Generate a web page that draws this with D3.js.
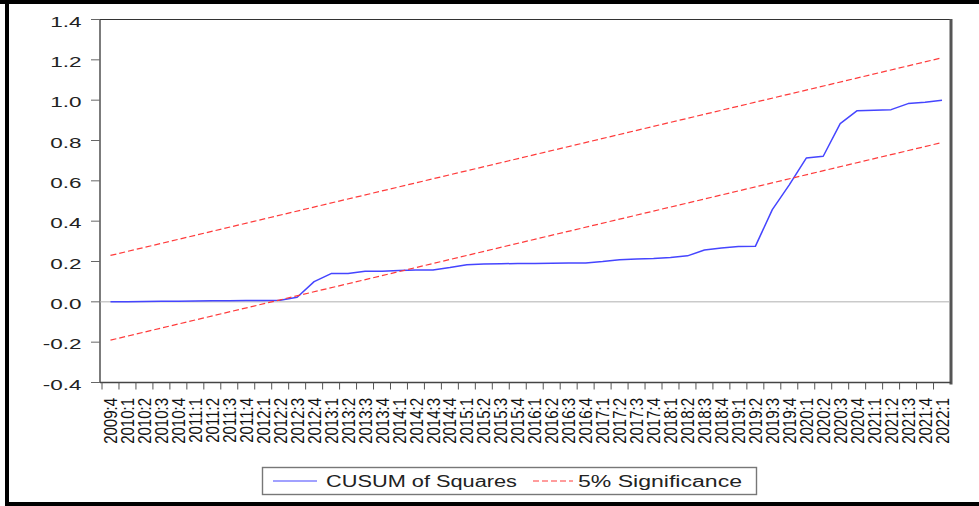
<!DOCTYPE html>
<html>
<head>
<meta charset="utf-8">
<script src="https://cdn.jsdelivr.net/npm/d3@7"></script>
<style>
  html, body { margin: 0; padding: 0; background: #fff; }
  svg { display: block; }
  text { font-family: "Liberation Sans", Arial, sans-serif; fill: #222; }
</style>
</head>
<body>
<svg id="chart" width="979" height="506"></svg>
<script>
// Quarterly observations
const quarters = [
  "2009:4",
  "2010:1","2010:2","2010:3","2010:4",
  "2011:1","2011:2","2011:3","2011:4",
  "2012:1","2012:2","2012:3","2012:4",
  "2013:1","2013:2","2013:3","2013:4",
  "2014:1","2014:2","2014:3","2014:4",
  "2015:1","2015:2","2015:3","2015:4",
  "2016:1","2016:2","2016:3","2016:4",
  "2017:1","2017:2","2017:3","2017:4",
  "2018:1","2018:2","2018:3","2018:4",
  "2019:1","2019:2","2019:3","2019:4",
  "2020:1","2020:2","2020:3","2020:4",
  "2021:1","2021:2","2021:3","2021:4",
  "2022:1"
];

// CUSUM of squares statistic
const cusumSq = [
  0.000,
  0.001, 0.002, 0.003, 0.003,
  0.004, 0.005, 0.005, 0.006,
  0.006, 0.008, 0.023, 0.100,
  0.140, 0.141, 0.152, 0.152,
  0.155, 0.158, 0.158, 0.170,
  0.184, 0.187, 0.189, 0.190,
  0.190, 0.191, 0.193, 0.193,
  0.200, 0.209, 0.212, 0.215,
  0.220, 0.228, 0.257, 0.267,
  0.274, 0.275, 0.457, 0.580,
  0.713, 0.722, 0.884, 0.948,
  0.950, 0.953, 0.983, 0.990,
  1.000
];

// 5% significance bounds (straight lines, first and last quarter)
const boundQuarters = ["2009:4", "2022:1"];
const upperBound = [0.23, 1.21];
const lowerBound = [-0.19, 0.79];

// Y axis ticks
const yTicks = [-0.4, -0.2, 0.0, 0.2, 0.4, 0.6, 0.8, 1.0, 1.2, 1.4];

const svg = d3.select("#chart");

const plot = { left: 100, right: 951, top: 19.5, bottom: 382.5 };

const x = d3.scaleBand()
  .domain(quarters)
  .range([102, 950.5])
  .padding(0);
const xc = q => x(q) + x.bandwidth() / 2;

const y = d3.scaleLinear()
  .domain([-0.4, 1.4])
  .range([plot.bottom, plot.top]);

// Outer black border
svg.append("rect").attr("x", 0).attr("y", 0).attr("width", 979).attr("height", 4).attr("fill", "#000");
svg.append("rect").attr("x", 5).attr("y", 0).attr("width", 4).attr("height", 506).attr("fill", "#000");
svg.append("rect").attr("x", 5).attr("y", 502).attr("width", 974).attr("height", 4).attr("fill", "#000");

// Plot frame
svg.append("line")
  .attr("x1", plot.left).attr("x2", plot.right)
  .attr("y1", plot.top).attr("y2", plot.top)
  .attr("stroke", "#333").attr("stroke-width", 1.2);
svg.append("line")
  .attr("x1", plot.right).attr("x2", plot.right)
  .attr("y1", plot.top - 0.6).attr("y2", plot.bottom + 2)
  .attr("stroke", "#555").attr("stroke-width", 3);

// Y axis
const yAxis = svg.append("g");
yAxis.append("line")
  .attr("x1", plot.left).attr("x2", plot.left)
  .attr("y1", plot.top).attr("y2", plot.bottom)
  .attr("stroke", "#444").attr("stroke-width", 1.4);
yAxis.selectAll("line.tick")
  .data(yTicks)
  .join("line")
  .attr("class", "tick")
  .attr("x1", 91).attr("x2", plot.left)
  .attr("y1", d => y(d)).attr("y2", d => y(d))
  .attr("stroke", "#666").attr("stroke-width", 1);
yAxis.selectAll("text")
  .data(yTicks)
  .join("text")
  .attr("transform", d => `translate(81.5,${y(d) + 7}) scale(1.5,1)`)
  .attr("text-anchor", "end")
  .attr("font-size", 15)
  .text(d => d3.format(".1f")(d).replace("−", "-"));

// X axis
const xAxis = svg.append("g");
xAxis.append("line")
  .attr("x1", plot.left).attr("x2", plot.right)
  .attr("y1", plot.bottom).attr("y2", plot.bottom)
  .attr("stroke", "#444").attr("stroke-width", 1.4);
xAxis.selectAll("line.tick")
  .data(quarters)
  .join("line")
  .attr("class", "tick")
  .attr("x1", d => x(d)).attr("x2", d => x(d))
  .attr("y1", plot.bottom).attr("y2", plot.bottom + 7)
  .attr("stroke", "#555").attr("stroke-width", 1);
xAxis.selectAll("text")
  .data(quarters)
  .join("text")
  .attr("transform", d => `translate(${xc(d)},398) scale(1.22,1) rotate(-90)`)
  .attr("text-anchor", "end")
  .attr("dy", "0.36em")
  .attr("font-size", 15)
  .style("fill", "#111")
  .text(d => d);

// Zero reference line
svg.append("line")
  .attr("x1", plot.left).attr("x2", plot.right - 1.5)
  .attr("y1", y(0)).attr("y2", y(0))
  .attr("stroke", "#b0b0b0").attr("stroke-width", 1);

// CUSUM of squares line
const line = d3.line()
  .x((d, i) => xc(quarters[i]))
  .y(d => y(d));
svg.append("path")
  .datum(cusumSq)
  .attr("d", line)
  .attr("fill", "none")
  .attr("stroke", "#4545ff")
  .attr("stroke-width", 1.5)
  .attr("stroke-linejoin", "round");

// Significance bounds
const boundLine = d3.line()
  .x((d, i) => xc(boundQuarters[i]))
  .y(d => y(d));
[upperBound, lowerBound].forEach(b => {
  svg.append("path")
    .datum(b)
    .attr("d", boundLine)
    .attr("fill", "none")
    .attr("stroke", "#ff3b3b")
    .attr("stroke-width", 1.2)
    .attr("stroke-dasharray", "6,3");
});

// Legend
const legend = svg.append("g");
legend.append("rect")
  .attr("x", 262.5).attr("y", 467.5)
  .attr("width", 494).attr("height", 27)
  .attr("fill", "#fff")
  .attr("stroke", "#777").attr("stroke-width", 1.4);
legend.append("line")
  .attr("x1", 273).attr("x2", 317)
  .attr("y1", 481).attr("y2", 481)
  .attr("stroke", "#4545ff").attr("stroke-width", 1.2);
legend.append("text")
  .attr("x", 326).attr("y", 487)
  .attr("font-size", 16)
  .attr("textLength", 191)
  .attr("lengthAdjust", "spacingAndGlyphs")
  .text("CUSUM of Squares");
legend.append("line")
  .attr("x1", 533).attr("x2", 573)
  .attr("y1", 481).attr("y2", 481)
  .attr("stroke", "#ff3b3b").attr("stroke-width", 1.2)
  .attr("stroke-dasharray", "6,3");
legend.append("text")
  .attr("x", 578).attr("y", 487)
  .attr("font-size", 16)
  .attr("textLength", 164)
  .attr("lengthAdjust", "spacingAndGlyphs")
  .text("5% Significance");
</script>
</body>
</html>
